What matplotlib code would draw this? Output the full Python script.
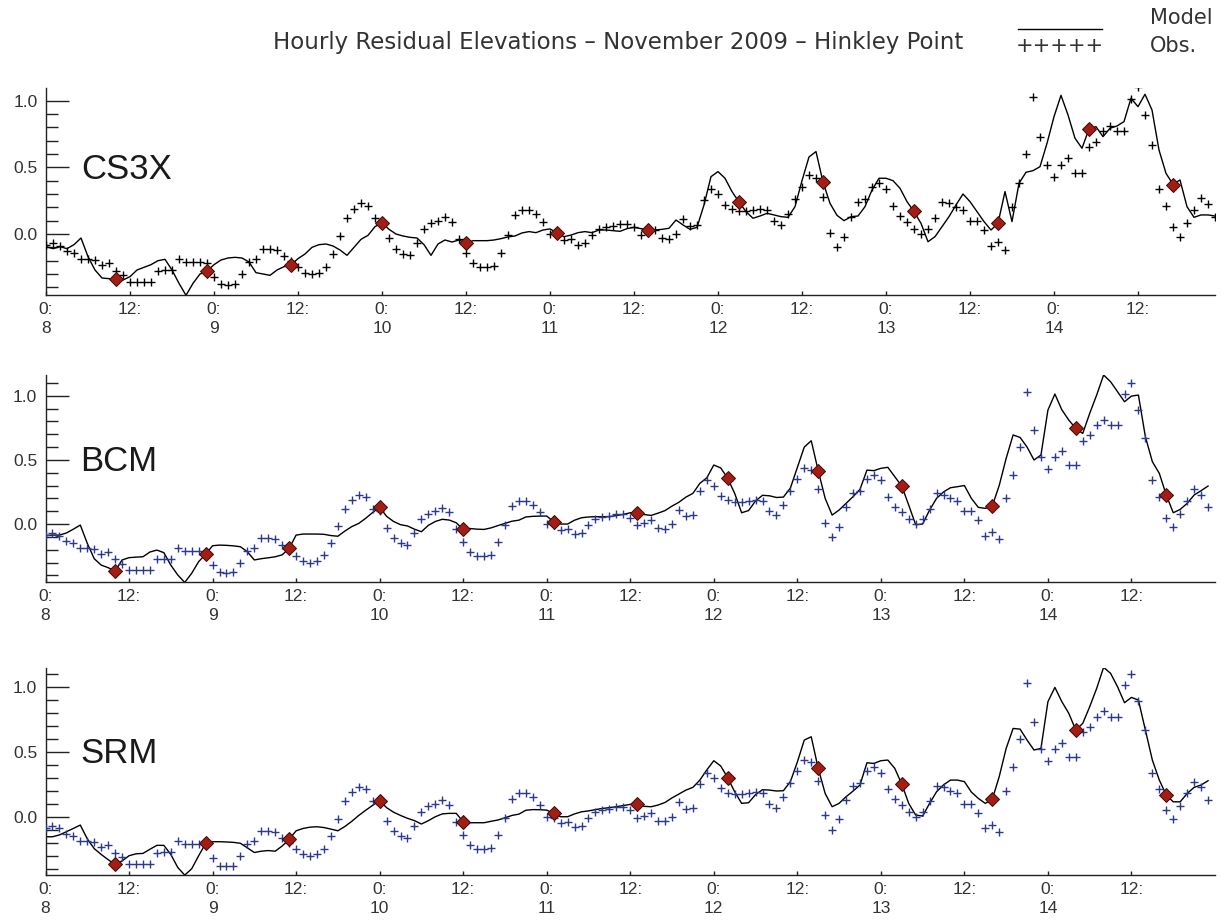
import matplotlib
matplotlib.use('Agg')
import matplotlib.pyplot as plt
from matplotlib.lines import Line2D
from matplotlib.ticker import MultipleLocator

# hourly residuals, hour 0 = 8 Nov 2009 00:00
hours = list(range(168))

obs = [
    -0.085, -0.07, -0.09, -0.13, -0.145, -0.19, -0.19, -0.195, -0.23, -0.22, -0.275, -0.31,
    -0.36, -0.36, -0.36, -0.36, -0.275, -0.27, -0.27, -0.19, -0.21, -0.21, -0.21, -0.215,
    -0.32, -0.375, -0.38, -0.375, -0.3, -0.21, -0.19, -0.11, -0.11, -0.12, -0.165, -0.2,
    -0.25, -0.29, -0.3, -0.29, -0.245, -0.15, -0.015, 0.118, 0.19, 0.23, 0.21, 0.118,
    0.1, -0.03, -0.11, -0.15, -0.16, -0.07, 0.04, 0.08, 0.1, 0.125, 0.09, -0.04,
    -0.14, -0.215, -0.25, -0.25, -0.24, -0.14, -0.01, 0.14, 0.18, 0.18, 0.15, 0.09,
    0.0, -0.01, -0.045, -0.04, -0.08, -0.07, -0.01, 0.04, 0.055, 0.06, 0.075, 0.075,
    0.05, -0.01, 0.005, 0.03, -0.03, -0.035, 0.0, 0.11, 0.06, 0.07, 0.255, 0.34,
    0.3, 0.22, 0.185, 0.175, 0.175, 0.18, 0.19, 0.18, 0.1, 0.07, 0.15, 0.26,
    0.35, 0.44, 0.42, 0.275, 0.01, -0.1, -0.02, 0.13, 0.24, 0.26, 0.35, 0.38,
    0.34, 0.21, 0.135, 0.09, 0.04, 0.0, 0.04, 0.12, 0.24, 0.23, 0.2, 0.18,
    0.1, 0.1, 0.03, -0.09, -0.06, -0.12, 0.2, 0.385, 0.6, 1.03, 0.73, 0.52,
    0.43, 0.52, 0.57, 0.46, 0.46, 0.65, 0.69, 0.77, 0.81, 0.77, 0.77, 1.01,
    1.1, 0.89, 0.67, 0.34, 0.21, 0.05, -0.02, 0.08, 0.18, 0.27, 0.225, 0.13,
]

cs3x = [
    -0.095, -0.11, -0.095, -0.11, -0.08, -0.03, -0.17, -0.27, -0.33, -0.335, -0.34, -0.345,
    -0.32, -0.27, -0.25, -0.23, -0.2, -0.19, -0.27, -0.37, -0.46, -0.37, -0.3, -0.278,
    -0.23, -0.195, -0.18, -0.175, -0.18, -0.21, -0.29, -0.3, -0.31, -0.27, -0.245, -0.233,
    -0.185, -0.15, -0.1, -0.08, -0.075, -0.09, -0.12, -0.16, -0.1, -0.04, -0.01, 0.055,
    0.085, 0.035, 0.0, -0.015, -0.025, -0.03, -0.08, -0.16, -0.075, -0.045, -0.06, -0.045,
    -0.07, -0.05, -0.05, -0.05, -0.045, -0.035, -0.022, -0.015, 0.008, 0.018, 0.01, 0.03,
    0.038, 0.01, -0.02, -0.008, 0.01, 0.018, 0.01, 0.03, 0.03, 0.025, 0.02, 0.04,
    0.05, 0.04, 0.03, 0.03, 0.035, 0.043, 0.105, 0.068, 0.035, 0.05, 0.218, 0.43,
    0.468, 0.418, 0.318, 0.24, 0.168, 0.118, 0.135, 0.155, 0.143, 0.13, 0.125, 0.205,
    0.4, 0.578, 0.618, 0.39, 0.23, 0.14, 0.1, 0.13, 0.135, 0.205, 0.33, 0.418,
    0.418, 0.4, 0.343, 0.243, 0.168, 0.08, -0.058, -0.02, 0.055, 0.13, 0.218, 0.3,
    0.243, 0.168, 0.093, 0.03, 0.08, 0.318, 0.093, 0.38, 0.463, 0.475, 0.505, 0.68,
    0.88, 1.04, 0.893, 0.718, 0.643, 0.788, 0.805, 0.73, 0.793, 0.81, 0.843, 1.018,
    0.955, 1.048, 0.93, 0.63, 0.455, 0.373, 0.405, 0.205, 0.125, 0.143, 0.143, 0.135,
]

bcm = [
    -0.09, -0.086, -0.086, -0.07, -0.04, -0.008, -0.15, -0.27, -0.32, -0.34, -0.366, -0.28,
    -0.262, -0.258, -0.255, -0.218, -0.203, -0.223, -0.32, -0.397, -0.455, -0.384, -0.293, -0.236,
    -0.169, -0.164, -0.166, -0.17, -0.177, -0.216, -0.28, -0.27, -0.263, -0.255, -0.24, -0.19,
    -0.086, -0.078, -0.078, -0.078, -0.08, -0.09, -0.095, -0.055, -0.02, 0.005, 0.045, 0.09,
    0.13, 0.06, 0.02, -0.005, -0.015, -0.04, -0.06, -0.01, 0.02, 0.037, 0.031, 0.01,
    -0.042, -0.035, -0.04, -0.042, -0.03, -0.012, 0.005, 0.022, 0.03, 0.055, 0.06, 0.062,
    0.062, 0.018, 0.0, 0.0, 0.03, 0.049, 0.055, 0.057, 0.057, 0.057, 0.066, 0.075,
    0.088, 0.088, 0.074, 0.067, 0.085, 0.105, 0.14, 0.17, 0.21, 0.239, 0.317, 0.36,
    0.46, 0.437, 0.356, 0.239, 0.088, 0.105, 0.18, 0.224, 0.22, 0.207, 0.21, 0.28,
    0.44, 0.6, 0.649, 0.416, 0.2, 0.07, 0.109, 0.161, 0.213, 0.27, 0.42, 0.416,
    0.434, 0.442, 0.369, 0.296, 0.148, -0.005, 0.0, 0.109, 0.2, 0.25, 0.283, 0.291,
    0.3, 0.2, 0.13, 0.122, 0.14, 0.3, 0.512, 0.694, 0.675, 0.6, 0.499, 0.538,
    0.888, 1.013, 0.89, 0.81, 0.745, 0.706, 0.862, 1.005, 1.161, 1.109, 1.031, 0.953,
    0.997, 1.005, 0.68, 0.486, 0.395, 0.226, 0.088, 0.114, 0.161, 0.226, 0.26, 0.296,
]

srm = [
    -0.154, -0.154, -0.14, -0.115, -0.09, -0.064, -0.17, -0.245, -0.29, -0.33, -0.367, -0.34,
    -0.3, -0.285, -0.282, -0.25, -0.22, -0.22, -0.29, -0.39, -0.449, -0.4, -0.3, -0.205,
    -0.192, -0.192, -0.194, -0.197, -0.204, -0.24, -0.275, -0.265, -0.26, -0.265, -0.225, -0.174,
    -0.108, -0.09, -0.08, -0.077, -0.083, -0.095, -0.108, -0.075, -0.035, 0.01, 0.05, 0.088,
    0.123, 0.07, 0.035, 0.01, -0.012, -0.03, -0.056, -0.03, 0.0, 0.022, 0.026, 0.026,
    -0.038, -0.046, -0.046, -0.046, -0.035, -0.025, -0.008, 0.01, 0.02, 0.05, 0.055, 0.054,
    0.051, 0.026, 0.0, 0.0, 0.022, 0.038, 0.045, 0.055, 0.064, 0.07, 0.077, 0.086,
    0.095, 0.095, 0.08, 0.077, 0.09, 0.11, 0.145, 0.175, 0.205, 0.226, 0.282, 0.36,
    0.431, 0.39, 0.3, 0.192, 0.103, 0.108, 0.17, 0.208, 0.205, 0.198, 0.2, 0.27,
    0.42, 0.59, 0.615, 0.372, 0.179, 0.077, 0.103, 0.154, 0.197, 0.244, 0.415, 0.41,
    0.431, 0.436, 0.372, 0.251, 0.103, 0.013, 0.005, 0.103, 0.192, 0.245, 0.282, 0.282,
    0.27, 0.19, 0.141, 0.103, 0.133, 0.308, 0.526, 0.679, 0.674, 0.59, 0.513, 0.526,
    0.885, 0.995, 0.885, 0.795, 0.667, 0.718, 0.846, 0.987, 1.149, 1.103, 1.0, 0.877,
    0.918, 0.897, 0.667, 0.436, 0.282, 0.167, 0.115, 0.115, 0.179, 0.226, 0.244, 0.277,
]

# high water markers for each model
cs3x_hw_hours = [10, 23, 35, 48, 60, 73, 86, 99, 111, 124, 136, 149, 161]
cs3x_hw = [-0.34, -0.278, -0.233, 0.085, -0.07, 0.01, 0.03, 0.24, 0.39, 0.17, 0.08, 0.79, 0.37]
bcm_hw_hours = [10, 23, 35, 48, 60, 73, 85, 98, 111, 123, 136, 148, 161]
bcm_hw = [-0.366, -0.236, -0.19, 0.13, -0.042, 0.018, 0.088, 0.356, 0.416, 0.296, 0.14, 0.745, 0.226]
srm_hw_hours = [10, 23, 35, 48, 60, 73, 85, 98, 111, 123, 136, 148, 161]
srm_hw = [-0.367, -0.205, -0.174, 0.123, -0.038, 0.026, 0.095, 0.3, 0.372, 0.251, 0.133, 0.667, 0.167]

tick_hours = list(range(0, 168, 12))
tick_labels = []
for day in range(8, 15):
    tick_labels += ['0:\n%d' % day, '12:']

W, H = 1221, 922
txt_col = '#333333'
lab_font = 'Liberation Sans'


def draw_panel(fig, rect, xmax, ylim, name, model, hw_hours, hw, obs_col):
    ax = fig.add_axes(rect)
    ax.plot(hours, model, color='black', lw=1.0, zorder=2)
    ax.plot(hours, obs, ls='none', marker='+', ms=6, mew=1.0, color=obs_col, zorder=3)
    ax.plot(hw_hours, hw, ls='none', marker='D', ms=7, mfc='#a31d15',
            mec='#3b0a07', mew=0.7, zorder=4)

    ax.set_xlim(0, xmax)
    ax.set_ylim(*ylim)
    ax.spines['top'].set_visible(False)
    ax.spines['right'].set_visible(False)
    for s in ('left', 'bottom'):
        ax.spines[s].set_color('#222222')
        ax.spines[s].set_linewidth(1.0)

    ax.set_xticks(tick_hours)
    ax.set_xticklabels(tick_labels)
    ax.set_yticks([0.0, 0.5, 1.0])
    ax.set_yticklabels(['0.0', '0.5', '1.0'])
    ax.yaxis.set_minor_locator(MultipleLocator(0.1))
    for lab in ax.get_xticklabels() + ax.get_yticklabels():
        lab.set_family(lab_font)
    for lab in ax.get_xticklabels():
        lab.set_linespacing(1.3)

    ax.tick_params(axis='x', direction='in', length=3, width=1, pad=5,
                   labelsize=12.5, colors='#222222', labelcolor=txt_col)
    ax.tick_params(axis='y', which='major', direction='in', length=16.5, width=1,
                   pad=6, labelsize=12.5, colors='#222222', labelcolor=txt_col)
    ax.tick_params(axis='y', which='minor', direction='in', length=8.5, width=1,
                   colors='#222222')

    ax.text(5, 0.41, name, fontsize=25, family=lab_font,
            color='#1a1a1a', ha='left', va='baseline')
    return ax


fig = plt.figure(figsize=(W / 100, H / 100), dpi=100)

draw_panel(fig, [46 / W, 627 / H, 1169 / W, 207 / H], 167, (-0.4575, 1.095),
           'CS3X', cs3x, cs3x_hw_hours, cs3x_hw, 'black')
draw_panel(fig, [45.5 / W, 339.7 / H, 1169.5 / W, 207 / H], 168, (-0.454, 1.159),
           'BCM', bcm, bcm_hw_hours, bcm_hw, '#2b3990')
draw_panel(fig, [45.5 / W, 47 / H, 1169.5 / W, 207 / H], 168, (-0.448, 1.144),
           'SRM', srm, srm_hw_hours, srm_hw, '#2b3990')

# title and key along the top
fig.text(273 / W, 1 - 42 / H,
         'Hourly Residual Elevations \u2013 November 2009 \u2013 Hinkley Point',
         fontsize=16.5, color='#333333', ha='left', va='center')
fig.lines.append(Line2D([1018 / W, 1102 / W], [1 - 29 / H, 1 - 29 / H],
                        transform=fig.transFigure, color='black', lw=1.0))
fig.text(1150 / W, 1 - 18 / H, 'Model', fontsize=15, color='#333333',
         ha='left', va='center')
fig.text(1060 / W, 1 - 46 / H, '+++++', fontsize=15, color='#333333',
         ha='center', va='center')
fig.text(1150 / W, 1 - 46 / H, 'Obs.', fontsize=15, color='#333333',
         ha='left', va='center')

fig.savefig('out.png', dpi=100)
